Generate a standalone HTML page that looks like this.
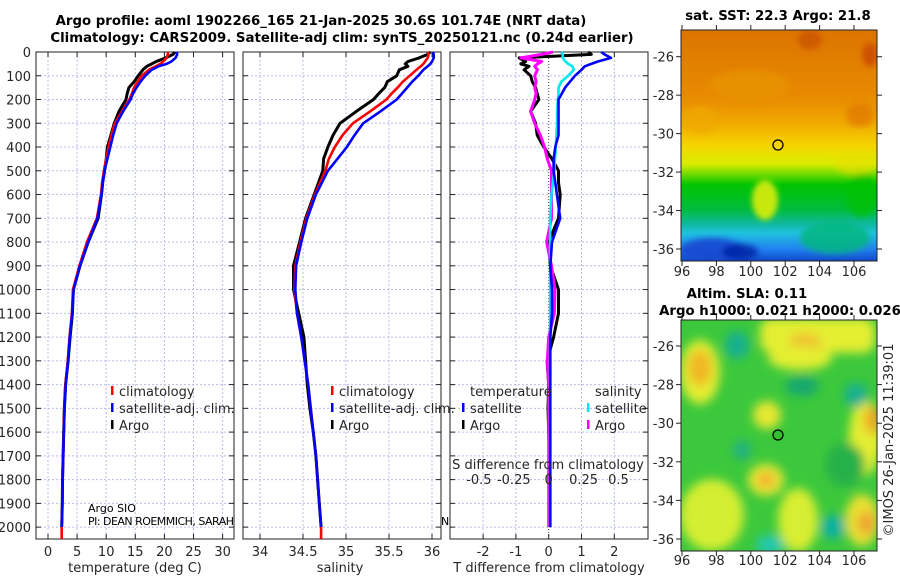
<!DOCTYPE html>
<html><head><meta charset="utf-8"><style>
body{margin:0;background:#fff;}
svg{display:block;font-family:"DejaVu Sans","Liberation Sans",sans-serif;}
.tk{font-size:13px;fill:#262626;}
.tt{font-size:13.3px;font-weight:bold;fill:#000;}
</style></head><body>
<svg id="chart" width="900" height="580" viewBox="0 0 900 580" xmlns="http://www.w3.org/2000/svg">
<defs>
<linearGradient id="sstg" x1="0" y1="0" x2="0" y2="1">
<stop offset="0" stop-color="#dc7400"/><stop offset="0.3" stop-color="#e88c00"/>
<stop offset="0.4" stop-color="#f0a800"/><stop offset="0.5" stop-color="#f6d400"/>
<stop offset="0.58" stop-color="#d8ec00"/><stop offset="0.63" stop-color="#60d800"/>
<stop offset="0.67" stop-color="#00c400"/><stop offset="0.78" stop-color="#00bc40"/>
<stop offset="0.84" stop-color="#10b8a0"/><stop offset="0.88" stop-color="#20c0e0"/>
<stop offset="0.95" stop-color="#2080f0"/><stop offset="1" stop-color="#1048c8"/>
</linearGradient>
<filter id="bl" x="-50%" y="-50%" width="200%" height="200%"><feGaussianBlur stdDeviation="5"/></filter>
<filter id="bl2" x="-50%" y="-50%" width="200%" height="200%"><feGaussianBlur stdDeviation="3"/></filter>
<clipPath id="c1"><rect x="681" y="30" width="196" height="231"/></clipPath>
<clipPath id="c2"><rect x="681" y="320" width="196" height="231"/></clipPath>
</defs>
<text class="tt" x="321" y="25" text-anchor="middle">Argo profile: aoml 1902266_165 21-Jan-2025 30.6S 101.74E (NRT data)</text>
<text class="tt" x="342" y="42" text-anchor="middle">Climatology: CARS2009. Satellite-adj clim: synTS_20250121.nc (0.24d earlier)</text>
<g id="panels"></g>

<g>
<g clip-path="url(#c1)">
<rect x="681" y="30" width="196" height="231" fill="url(#sstg)"/>
<g filter="url(#bl2)">
<ellipse cx="765" cy="200" rx="13" ry="20" fill="#c8e810"/>
<ellipse cx="750" cy="85" rx="40" ry="15" fill="#e89400" opacity="0.7"/>
<ellipse cx="700" cy="120" rx="18" ry="14" fill="#f0a800" opacity="0.7"/>
<ellipse cx="810" cy="40" rx="12" ry="10" fill="#c85000" opacity="0.7"/>
<ellipse cx="870" cy="55" rx="8" ry="12" fill="#c84000" opacity="0.7"/>
<ellipse cx="860" cy="115" rx="14" ry="12" fill="#e07800" opacity="0.7"/>
<ellipse cx="712" cy="250" rx="32" ry="12" fill="#1848d0" opacity="0.9"/>
<ellipse cx="740" cy="252" rx="18" ry="8" fill="#0020a0" opacity="0.8"/>
<ellipse cx="835" cy="238" rx="35" ry="16" fill="#00b878" opacity="0.8"/>
<ellipse cx="862" cy="195" rx="16" ry="22" fill="#00c000" opacity="0.7"/>
<ellipse cx="855" cy="165" rx="20" ry="10" fill="#e8e000" opacity="0.6"/>
</g>
</g>
<rect x="681" y="30" width="196" height="231" fill="none" stroke="#222"/>
<circle cx="778" cy="145" r="5" fill="none" stroke="#000" stroke-width="1.3"/>
<text class="tt" x="778" y="20" text-anchor="middle">sat. SST: 22.3 Argo: 21.8</text>
</g>

<g>
<g clip-path="url(#c2)">
<rect x="681" y="320" width="196" height="231" fill="#3cc83c"/>
<g filter="url(#bl)">
<rect x="760" y="318" width="115" height="35" rx="12" fill="#e4ee30"/>
<ellipse cx="805" cy="345" rx="16" ry="12" fill="#f0c030"/>
<ellipse cx="700" cy="372" rx="20" ry="32" fill="#e4ee30"/>
<ellipse cx="700" cy="368" rx="12" ry="18" fill="#f0b828"/>
<ellipse cx="800" cy="358" rx="32" ry="12" fill="#e4ee30"/>
<ellipse cx="865" cy="437" rx="16" ry="38" fill="#e4ee30"/>
<ellipse cx="872" cy="420" rx="8" ry="14" fill="#f0a828"/>
<ellipse cx="767" cy="415" rx="14" ry="14" fill="#e8e830"/>
<ellipse cx="766" cy="480" rx="18" ry="16" fill="#e8e830"/>
<ellipse cx="766" cy="480" rx="9" ry="8" fill="#f0b030"/>
<ellipse cx="712" cy="515" rx="32" ry="36" fill="#d4ee30"/>
<ellipse cx="798" cy="520" rx="20" ry="32" fill="#d8ee30"/>
<ellipse cx="862" cy="520" rx="17" ry="26" fill="#e8e030"/>
<ellipse cx="866" cy="523" rx="8" ry="12" fill="#f0a030"/>
<ellipse cx="737" cy="345" rx="12" ry="14" fill="#18b090"/>
<ellipse cx="802" cy="386" rx="17" ry="10" fill="#14a870"/>
<ellipse cx="856" cy="395" rx="12" ry="12" fill="#18b090"/>
<ellipse cx="742" cy="450" rx="9" ry="10" fill="#20b080"/>
<ellipse cx="833" cy="527" rx="12" ry="12" fill="#10b0a0"/>
<ellipse cx="770" cy="545" rx="14" ry="10" fill="#20c8b0"/>
<ellipse cx="845" cy="465" rx="20" ry="22" fill="#28b048"/>
</g>
</g>
<rect x="681" y="320" width="196" height="231" fill="none" stroke="#222"/>
<circle cx="778" cy="435" r="5" fill="#30c030" stroke="#000" stroke-width="1.3"/>
<text class="tt" x="747" y="298" text-anchor="middle">Altim. SLA: 0.11</text>
<text class="tt" x="780" y="315" text-anchor="middle">Argo h1000: 0.021 h2000: 0.026</text>
</g>
<text transform="translate(893,440) rotate(-90)" text-anchor="middle" font-size="13" fill="#262626">©IMOS 26-Jan-2025 11:39:01</text>
<g id="maps-axes"></g>

<script>
// ---------- data ----------
const depths = [0,10,25,40,50,60,75,100,125,150,175,200,250,300,350,400,450,500,550,600,700,800,900,1000,1100,1200,1300,1400,1500,1600,1700,1800,1900,2000];
const tempClim = [20.6,20.6,20.4,19.8,19.3,18.5,17.3,16.1,15.4,14.8,14.4,14.0,12.7,11.5,10.9,10.4,10.0,9.6,9.3,9.1,8.4,6.7,5.4,4.3,4.1,3.7,3.4,3.0,2.8,2.7,2.6,2.5,2.45,2.35];
const tempSat = [22.1,22.2,21.9,21.2,20.4,19.0,17.8,16.7,15.9,15.2,14.6,14.2,12.9,11.8,11.2,10.7,10.2,9.7,9.4,9.2,8.5,6.9,5.5,4.4,4.15,3.75,3.45,3.05,2.85,2.72,2.62,2.52,2.45,2.35];
const tempArgo = [21.8,21.5,20.2,18.6,17.8,17.0,16.3,15.5,14.8,13.9,13.6,13.4,12.2,11.4,10.8,10.2,10.0,9.7,9.4,9.2,8.6,6.9,5.5,4.35,4.2,3.8,3.45,3.0,2.8,2.7,2.6,2.5,2.45,2.35];
const salClim = [35.95,35.96,35.95,35.92,35.9,35.87,35.82,35.74,35.66,35.6,35.53,35.47,35.28,35.08,34.96,34.87,34.8,34.76,34.7,34.64,34.54,34.47,34.41,34.4,34.43,34.48,34.52,34.56,34.59,34.62,34.65,34.67,34.69,34.71];
const salSat = [36.01,36.02,36.02,36.0,35.98,35.95,35.9,35.84,35.77,35.71,35.65,35.59,35.4,35.2,35.1,35.01,34.9,34.79,34.72,34.65,34.55,34.48,34.42,34.41,34.43,34.48,34.52,34.56,34.59,34.62,34.65,34.67,34.69,34.71];
const salArgo = [35.98,35.95,35.85,35.72,35.69,35.72,35.62,35.59,35.48,35.45,35.38,35.32,35.12,34.93,34.85,34.79,34.74,34.73,34.68,34.63,34.53,34.46,34.39,34.39,34.45,34.51,34.53,34.55,34.58,34.62,34.65,34.67,34.69,34.71];
const dTempSat = [1.6,1.7,1.9,1.5,1.3,1.1,1.0,0.8,0.65,0.5,0.4,0.3,0.3,0.3,0.3,0.2,0.15,0.15,0.2,0.25,0.35,0.1,0.05,0.1,0.1,0.05,0.05,0.05,0.05,0.05,0.05,0.05,0.05,0.05];
const dTempArgo = [1.2,1.3,-0.9,-0.7,-0.85,-0.6,-0.75,-0.55,-0.5,-0.4,-0.35,-0.3,-0.55,-0.4,-0.35,-0.15,0.1,0.3,0.3,0.35,0.3,0.0,0.05,0.3,0.3,0.15,-0.05,0.0,-0.02,0.0,0.02,0.0,0.02,0.03];
const dSalSat = [0.09,0.1,0.1,0.12,0.14,0.17,0.18,0.14,0.09,0.07,0.07,0.065,0.06,0.06,0.055,0.05,0.045,0.04,0.03,0.02,0.01,0.01,0.01,0.01,0.01,0.01,0.01,0.01,0.01,0.01,0.01,0.01,0.01,0.01];
const dSalArgo = [0.03,-0.05,-0.2,-0.05,-0.08,-0.1,-0.08,-0.1,-0.09,-0.1,-0.09,-0.1,-0.13,-0.1,-0.06,-0.03,-0.01,0.02,0.02,0.02,0.02,-0.015,0.02,0.045,0.04,0.0,-0.01,0,0,0,0,0,0,0];
const depthTicks = [0,100,200,300,400,500,600,700,800,900,1000,1100,1200,1300,1400,1500,1600,1700,1800,1900,2000];
const tempTicks = [0,5,10,15,20,25,30];
const salTicks = [34,34.5,35,35.5,36];
const salTickLabels = ["34","34.5","35","35.5","36"];
const dTempTicks = [-2,-1,0,1,2];
const dSalTicks = [-0.5,-0.25,0,0.25,0.5];
const dSalTickLabels = ["-0.5","-0.25","0","0.25","0.5"];
const lonTicks = [96,98,100,102,104,106];
const latTicks = [-26,-28,-30,-32,-34,-36];

// ---------- scales ----------
const NS="http://www.w3.org/2000/svg";
const Y0=52, Y1=539, DMAX=2050;
function yD(d){return Y0+(Y1-Y0)*d/DMAX;}
function lin(d0,d1,r0,r1){return v=>r0+(v-d0)*(r1-r0)/(d1-d0);}
const P=[
 {x0:36,x1:234,sx:lin(0,30,48,222.6)},
 {x0:243,x1:441,sx:lin(34,36,260,432)},
 {x0:450,x1:648,sx:lin(0,2,548.7,614.3)}
];
const sS=lin(0,0.5,548.7,618.5);
const root=document.getElementById('panels');
function el(tag,attrs,parent){const e=document.createElementNS(NS,tag);for(const k in attrs)e.setAttribute(k,attrs[k]);(parent||root).appendChild(e);return e;}

P.forEach((p,i)=>{
 const g=el('g',{});
 
 
 el('rect',{x:p.x0,y:Y0,width:p.x1-p.x0,height:Y1-Y0,fill:'#fff'},g);
 const xt = i==0?tempTicks:(i==1?salTicks:dTempTicks);
 xt.forEach(v=>{const x=p.sx(v);
  el('line',{x1:x,x2:x,y1:Y0,y2:Y1,stroke:(i==2&&v==0)?'#444':'#b8bde8','stroke-width':1,'stroke-dasharray':(i==2&&v==0)?'1,2':'2,2'},g);
  el('line',{x1:x,x2:x,y1:Y0,y2:Y0+5,stroke:'#222'},g);
  el('line',{x1:x,x2:x,y1:Y1,y2:Y1-5,stroke:'#222'},g);
  const t=el('text',{x:x,y:556,'text-anchor':'middle',class:'tk'},g);
  
  
  t.textContent = i==1?salTickLabels[salTicks.indexOf(v)]:String(v);
 });
 depthTicks.forEach(d=>{const y=yD(d);
  el('line',{x1:p.x0,x2:p.x1,y1:y,y2:y,stroke:'#b8bde8','stroke-dasharray':'2,2'},g);
  el('line',{x1:p.x0,x2:p.x0+5,y1:y,y2:y,stroke:'#222'},g);
  el('line',{x1:p.x1,x2:p.x1-5,y1:y,y2:y,stroke:'#222'},g);
  if(i==0){const t=el('text',{x:31,y:y+5,'text-anchor':'end',class:'tk'},g);
   
   
   t.textContent=d;}
 });
 el('rect',{x:p.x0,y:Y0,width:p.x1-p.x0,height:Y1-Y0,fill:'none',stroke:'#222'},g);
});
const axT=[["temperature (deg C)",135],["salinity",340],["T difference from climatology",549]];
axT.forEach((a,i)=>{const t=el('text',{x:a[1],y:572,'text-anchor':'middle',class:'tk'});
 
 
 t.textContent=a[0];});

function line(vals,sx,color,name,w){
 let d='';vals.forEach((v,k)=>{d+=(k?'L':'M')+sx(v).toFixed(1)+','+yD(depths[k]).toFixed(1);});
 const e=el('path',{d:d,fill:'none',stroke:color,'stroke-width':w||2.6,'stroke-linejoin':'round'});
 
 
 return e;}
function tail(v,sx,color){el('line',{x1:sx(v),x2:sx(v),y1:yD(2000),y2:Y1,stroke:color,'stroke-width':2.6});}
line(tempArgo,P[0].sx,'#000','temp-argo-line',3);
line(tempClim,P[0].sx,'#ff0000','temp-climatology-line');
line(tempSat,P[0].sx,'#0000ff','temp-satellite-line');
tail(tempClim[tempClim.length-1],P[0].sx,'#ff0000');
line(salArgo,P[1].sx,'#000','sal-argo-line',3);
line(salClim,P[1].sx,'#ff0000','sal-climatology-line');
line(salSat,P[1].sx,'#0000ff','sal-satellite-line');
tail(salClim[salClim.length-1],P[1].sx,'#ff0000');
line(dTempArgo,P[2].sx,'#000','dtemp-argo-line',3);
line(dSalArgo,sS,'#ff00ff','dsal-argo-line',3);
line(dSalSat,sS,'#00e8f0','dsal-satellite-line');
line(dTempSat,P[2].sx,'#0000ff','dtemp-satellite-line');

function leg(x,y,color,label,name){
 const g=el('g',{});
 
 
 if(color) el('rect',{x:x,y:y-10,width:2.5,height:9,fill:color},g);
 const t=el('text',{x:x+8,y:y,class:'tk'},g);t.textContent=label;}
leg(111,396,'#ff0000','climatology','legend-temp-climatology');
leg(111,413,'#0000ff','satellite-adj. clim.','legend-temp-satellite');
leg(111,430,'#000','Argo','legend-temp-argo');
leg(331,396,'#ff0000','climatology','legend-sal-climatology');
leg(331,413,'#0000ff','satellite-adj. clim.','legend-sal-satellite');
leg(331,430,'#000','Argo','legend-sal-argo');
leg(462,396,null,'temperature','legend-diff-temp-header');
leg(462,413,'#0000ff','satellite','legend-diff-temp-satellite');
leg(462,430,'#000','Argo','legend-diff-temp-argo');
leg(587,396,null,'salinity','legend-diff-sal-header');
leg(587,413,'#00e8f0','satellite','legend-diff-sal-satellite');
leg(587,430,'#ff00ff','Argo','legend-diff-sal-argo');

let t=el('text',{x:548,y:469,'text-anchor':'middle',class:'tk'});


t.textContent='S difference from climatology';
dSalTicks.forEach((v,k)=>{const tt=el('text',{x:sS(v),y:484,'text-anchor':'middle',class:'tk'});
 
 
 tt.textContent=dSalTickLabels[k];});
t=el('text',{x:88,y:512,'font-size':'11',fill:'#000'});


t.textContent='Argo SIO';
t=el('text',{x:88,y:525,'font-size':'11',fill:'#000',textLength:'146'});


t.textContent='PI: DEAN ROEMMICH, SARAH';
t=el('text',{x:441,y:525,'font-size':'11',fill:'#000'});
t.textContent='N';

const ma=document.getElementById('maps-axes');
const lonX=lin(96,106,682,854);
[[30,261,lin(-26,-36,56.7,249),276],[320,551,lin(-26,-36,346,539),565]].forEach((m,i)=>{
 lonTicks.forEach(v=>{const x=lonX(v);
  el('line',{x1:x,x2:x,y1:m[0]-5,y2:m[0],stroke:'#222'},ma);
  el('line',{x1:x,x2:x,y1:m[1],y2:m[1]+5,stroke:'#222'},ma);
  const tt=el('text',{x:x,y:m[3],'text-anchor':'middle',class:'tk'},ma);
  
  
  tt.textContent=v;});
 latTicks.forEach(v=>{const y=m[2](v);
  el('line',{x1:676,x2:681,y1:y,y2:y,stroke:'#222'},ma);
  el('line',{x1:877,x2:882,y1:y,y2:y,stroke:'#222'},ma);
  const tt=el('text',{x:674,y:y+5,'text-anchor':'end',class:'tk'},ma);
  
  
  tt.textContent=v;});
});
</script>
</svg>
</body></html>
